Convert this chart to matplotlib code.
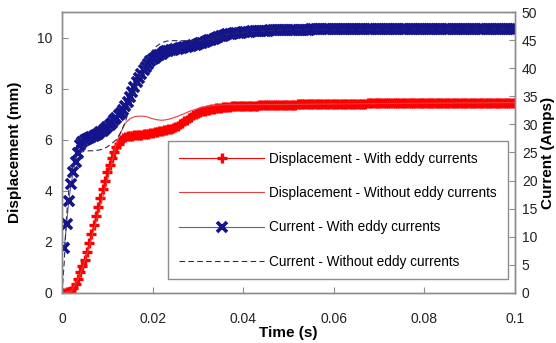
import numpy as np
import matplotlib
matplotlib.use("Agg")
import matplotlib.pyplot as plt

plt.rcParams['font.family'] = ['Liberation Sans', 'DejaVu Sans']

# Time samples every 0.5 ms (s)
time_s = np.arange(201) * 0.0005

# Displacement with eddy currents (mm), t = 0 .. 0.1 s
disp_eddy = [
    0.0, 0.01, 0.02, 0.04, 0.08, 0.18, 0.33, 0.55, 0.8, 1.05,
    1.3, 1.6, 1.95, 2.3, 2.65, 3.0, 3.35, 3.7, 4.05, 4.4,
    4.72, 5.0, 5.3, 5.5, 5.7, 5.85, 5.97, 6.05, 6.1, 6.13,
    6.15, 6.16, 6.17, 6.18, 6.19, 6.2, 6.21, 6.22, 6.23, 6.25,
    6.27, 6.29, 6.31, 6.33, 6.35, 6.37, 6.39, 6.41, 6.43, 6.46,
    6.5, 6.55, 6.6, 6.66, 6.72, 6.78, 6.84, 6.9, 6.95, 7.0,
    7.04, 7.08, 7.11, 7.14, 7.16, 7.18, 7.2, 7.22, 7.23, 7.25,
    7.26, 7.27, 7.28, 7.29, 7.29, 7.3, 7.3, 7.31, 7.31, 7.31,
    7.32, 7.32, 7.32, 7.33, 7.33, 7.33, 7.33, 7.34, 7.34, 7.34,
    7.34, 7.35, 7.35, 7.35, 7.35, 7.36, 7.36, 7.36, 7.36, 7.37,
    7.37, 7.37, 7.37, 7.37, 7.38, 7.38, 7.38, 7.38, 7.38, 7.39,
    7.39, 7.39, 7.39, 7.39, 7.39, 7.4, 7.4, 7.4, 7.4, 7.4,
    7.4, 7.4, 7.4, 7.4, 7.4, 7.41, 7.41, 7.41, 7.41, 7.41,
    7.41, 7.41, 7.41, 7.41, 7.41, 7.42, 7.42, 7.42, 7.42, 7.42,
    7.42, 7.42, 7.42, 7.42, 7.42, 7.42, 7.42, 7.42, 7.42, 7.42,
    7.42, 7.42, 7.42, 7.42, 7.42, 7.43, 7.43, 7.43, 7.43, 7.43,
    7.43, 7.43, 7.43, 7.43, 7.43, 7.43, 7.43, 7.43, 7.43, 7.43,
    7.43, 7.43, 7.43, 7.43, 7.43, 7.44, 7.44, 7.44, 7.44, 7.44,
    7.44, 7.44, 7.44, 7.44, 7.44, 7.44, 7.44, 7.44, 7.44, 7.44,
    7.44, 7.44, 7.44, 7.44, 7.44, 7.45, 7.45, 7.45, 7.45, 7.45,
    7.45,
]

# Current with eddy currents (A), t = 0.0005 .. 0.1 s
current_eddy = [
    8.0, 12.3, 16.4, 19.3, 21.6, 23.3, 24.9, 26.4, 26.9, 27.2,
    27.4, 27.6, 27.8, 27.9, 28.1, 28.3, 28.6, 28.9, 29.2, 29.5,
    29.9, 30.3, 30.8, 31.2, 31.6, 32.0, 32.6, 33.3, 34.0, 34.8,
    35.7, 36.6, 37.5, 38.3, 39.0, 39.7, 40.3, 40.8, 41.2, 41.6,
    41.9, 42.2, 42.4, 42.6, 42.8, 43.0, 43.1, 43.2, 43.3, 43.4,
    43.5, 43.6, 43.65, 43.7, 43.8, 43.9, 44.0, 44.1, 44.2, 44.3,
    44.4, 44.55, 44.7, 44.8, 44.95, 45.1, 45.25, 45.4, 45.5, 45.65,
    45.75, 45.9, 46.0, 46.05, 46.1, 46.2, 46.25, 46.3, 46.35, 46.4,
    46.45, 46.5, 46.5, 46.55, 46.6, 46.6, 46.65, 46.65, 46.7, 46.7,
    46.7, 46.75, 46.75, 46.75, 46.8, 46.8, 46.8, 46.8, 46.85, 46.85,
    46.85, 46.85, 46.86, 46.86, 46.87, 46.87, 46.88, 46.88, 46.88, 46.89,
    46.89, 46.89, 46.89, 46.89, 46.89, 46.9, 46.9, 46.9, 46.9, 46.9,
    46.91, 46.91, 46.91, 46.91, 46.91, 46.91, 46.91, 46.91, 46.91, 46.91,
    46.92, 46.92, 46.92, 46.92, 46.92, 46.92, 46.92, 46.92, 46.92, 46.92,
    46.93, 46.93, 46.93, 46.93, 46.93, 46.93, 46.93, 46.93, 46.93, 46.93,
    46.94, 46.94, 46.94, 46.94, 46.94, 46.94, 46.94, 46.94, 46.94, 46.94,
    46.95, 46.95, 46.95, 46.95, 46.95, 46.95, 46.95, 46.95, 46.95, 46.95,
    46.96, 46.96, 46.96, 46.96, 46.96, 46.96, 46.96, 46.96, 46.96, 46.96,
    46.97, 46.97, 46.97, 46.97, 46.97, 46.97, 46.97, 46.97, 46.97, 46.97,
    46.98, 46.98, 46.98, 46.98, 46.98, 46.98, 46.98, 46.98, 46.98, 46.98,
]

# Without eddy currents (simulation output, sparser sampling)
t_no_eddy_disp = [0, 0.002, 0.004, 0.006, 0.008, 0.010, 0.011, 0.012, 0.013,
                  0.014, 0.015, 0.016, 0.017, 0.018, 0.019, 0.020, 0.021,
                  0.022, 0.023, 0.024, 0.025, 0.026, 0.027, 0.028, 0.030,
                  0.032, 0.034, 0.036, 0.040, 0.050, 0.060, 0.080, 0.100]
disp_no_eddy = [0, 0.05, 0.7, 1.8, 3.1, 4.4, 5.1, 5.85, 6.3,
                6.65, 6.82, 6.9, 6.92, 6.92, 6.88, 6.82, 6.78,
                6.76, 6.78, 6.82, 6.88, 6.95, 7.02, 7.1, 7.22,
                7.3, 7.35, 7.37, 7.37, 7.38, 7.4, 7.43, 7.45]

t_no_eddy_cur = [0, 0.0005, 0.001, 0.0015, 0.002, 0.0025, 0.003, 0.0035,
                 0.004, 0.005, 0.006, 0.007, 0.008, 0.009, 0.010, 0.011,
                 0.012, 0.013, 0.014, 0.015, 0.016, 0.017, 0.018, 0.019,
                 0.020, 0.021, 0.022, 0.023, 0.024, 0.026, 0.028, 0.030,
                 0.032, 0.034, 0.036, 0.038, 0.040, 0.050, 0.100]
current_no_eddy = [0, 5.5, 13.6, 18.2, 20.9, 22.7, 24.1, 24.8,
                   25.0, 25.2, 25.3, 25.3, 25.4, 25.6, 26.0, 26.6,
                   27.3, 28.6, 30.5, 33.0, 35.6, 38.1, 40.3, 42.0,
                   43.2, 44.0, 44.5, 44.8, 44.9, 44.9, 44.85, 44.9,
                   45.1, 45.45, 45.9, 46.15, 46.4, 46.85, 47.0]

fig = plt.figure(figsize=(5.56, 3.43), dpi=100)
ax = fig.add_axes([0.1115, 0.146, 0.8147, 0.819])
ax2 = ax.twinx()

red = '#ff0000'
navy = '#14148c'

l1, = ax.plot(time_s, disp_eddy, color=red, lw=0.8, marker='+',
              ms=6.5, mew=2.4, label='Displacement - With eddy currents')
l2, = ax.plot(t_no_eddy_disp, disp_no_eddy, color='#e04040', lw=0.8,
              label='Displacement - Without eddy currents')
l3, = ax2.plot(time_s[1:], current_eddy, color='#6060a0', lw=0.8, marker='x',
               mec=navy, ms=6.5, mew=2.6, label='Current - With eddy currents')
l4, = ax2.plot(t_no_eddy_cur, current_no_eddy, color='#2a2a55', lw=0.8,
               ls=(0, (5, 3)), label='Current - Without eddy currents')

ax.set_xlim(0, 0.1)
ax.set_ylim(0, 11)
ax2.set_ylim(0, 50)
ax.set_xticks([0, 0.02, 0.04, 0.06, 0.08, 0.1])
ax.set_xticklabels(['0', '0.02', '0.04', '0.06', '0.08', '0.1'])
ax.set_yticks([0, 2, 4, 6, 8, 10])
ax2.set_yticks(range(0, 51, 5))

for a in (ax, ax2):
    for s in a.spines.values():
        s.set_color('#8c8c8c')
        s.set_linewidth(1.0)
ax.tick_params(axis='x', direction='in', length=4, color='#8c8c8c',
               labelsize=10, pad=14, labelcolor='#222222')
ax.tick_params(axis='y', direction='in', length=4, color='#8c8c8c',
               labelsize=10, pad=7, labelcolor='#222222')
ax2.tick_params(axis='y', direction='in', length=4, color='#8c8c8c',
                labelsize=10, pad=5, labelcolor='#222222')

ax.set_xlabel('Time (s)', fontsize=11, fontweight='bold', labelpad=0)
ax.set_ylabel('Displacement (mm)', fontsize=11, fontweight='bold')
ax.yaxis.set_label_coords(-0.088, 0.5)
ax2.set_ylabel('Current (Amps)', fontsize=11, fontweight='bold')
ax2.yaxis.set_label_coords(1.058, 0.5)

leg = ax2.legend(handles=[l1, l2, l3, l4], loc='lower right',
                 bbox_to_anchor=(0.984, 0.048), borderaxespad=0,
                 fontsize=9.8, handlelength=6.2, handletextpad=0.4,
                 labelspacing=1.48, borderpad=0.8, fancybox=False,
                 framealpha=1)
leg.get_frame().set_edgecolor('#8c8c8c')
leg.get_frame().set_linewidth(1.0)

fig.savefig('out.png', dpi=100)
